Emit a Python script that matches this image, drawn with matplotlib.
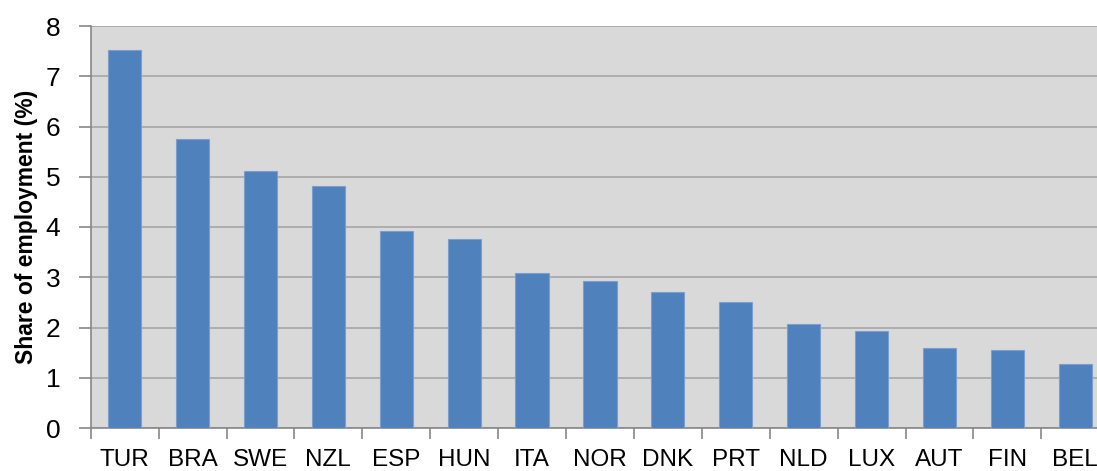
import numpy as np
import matplotlib
matplotlib.use('Agg')
from matplotlib import pyplot as plt

countries = ['TUR', 'BRA', 'SWE', 'NZL', 'ESP', 'HUN', 'ITA', 'NOR', 'DNK',
             'PRT', 'NLD', 'LUX', 'AUT', 'FIN', 'BEL']
share = [7.52, 5.75, 5.11, 4.82, 3.92, 3.76, 3.08, 2.93, 2.71,
         2.51, 2.07, 1.94, 1.59, 1.56, 1.28]

plt.rcParams['font.family'] = ['Liberation Sans', 'DejaVu Sans']

fig = plt.figure(figsize=(10.97, 4.71), dpi=100)
W, H = 1097, 471
ax = fig.add_axes([90.7 / W, 1 - 428 / H, 1018.5 / W, (428 - 26) / H])
ax.set_facecolor('#d9d9d9')

x = np.arange(len(countries))
ax.bar(x, share, width=0.49, color='#4f81bd', edgecolor='#7a9fcf',
       linewidth=0.8, zorder=3)

ax.set_xlim(-0.5, len(countries) - 0.5)
ax.set_ylim(0, 8)
ax.set_yticks(range(0, 9))
ax.yaxis.grid(True, color='#a6a6a6', linewidth=1.2, zorder=1)
ax.set_axisbelow(True)

# ticks at category boundaries, labels centred on bars
ax.set_xticks(np.arange(-0.5, len(countries), 1.0))
ax.set_xticklabels([])
ax.set_xticks(x, minor=True)
ax.set_xticklabels(countries, minor=True, fontsize=17.5)
ax.tick_params(axis='x', which='minor', length=0, pad=15)
ax.tick_params(axis='x', which='major', length=8, color='#878787', width=1.2)
ax.tick_params(axis='y', length=9, color='#878787', width=1.2,
               labelsize=19, pad=13)

for s in ['top', 'right']:
    ax.spines[s].set_visible(False)
for s in ['left', 'bottom']:
    ax.spines[s].set_color('#878787')
    ax.spines[s].set_linewidth(1.2)

ax.set_ylabel('Share of employment (%)', fontsize=16.5, fontweight='bold',
              labelpad=5)

fig.savefig('out.png', dpi=100)
